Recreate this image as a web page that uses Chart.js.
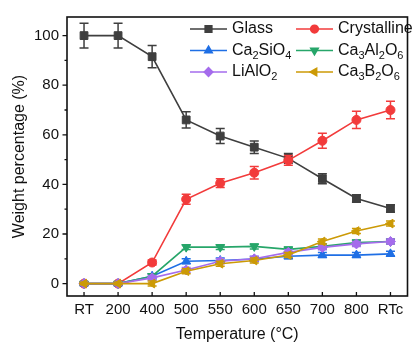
<!DOCTYPE html>
<html>
<head>
<meta charset="utf-8">
<script src="https://cdn.jsdelivr.net/npm/chart.js@4"></script>
<style>
  html, body { margin: 0; padding: 0; background: #fff; overflow: hidden; }
  .wrap { position: relative; width: 414px; height: 343px; }
</style>
</head>
<body>
<div class="wrap"><canvas id="c"></canvas></div>
<script>
const categories = ['RT', '200', '400', '500', '550', '600', '650', '700', '800', 'RTc'];
const yTicks = [0, 20, 40, 60, 80, 100];

const glass = [100, 100, 91.5, 66, 59.5, 55, 50.5, 42.3, 34.3, 30.3];
const glassErr = [5, 5, 4.5, 3.3, 3, 2.5, 2, 2, 1.5, 1.5];
const crystalline = [0, 0, 8.5, 34, 40.5, 44.7, 49.7, 57.6, 66, 70];
const crystallineErr = [0, 0, 1, 2, 1.8, 2.5, 2, 3, 3.5, 3.5];
const ca2sio4 = [0, 0, 3, 9, 9.3, 9.9, 11, 11.5, 11.5, 12];
const ca3al2o6 = [0, 0, 3, 14.7, 14.7, 15, 13.8, 15, 16.6, 17];
const liaio2 = [0, 0, 2.3, 5.5, 9, 10, 12.6, 14.6, 16, 17];
const ca3b2o6 = [0, 0, 0, 5, 8, 9.3, 11.5, 17, 21.2, 24.2];
const smallErr = [0.5, 0.5, 1, 1, 1, 1, 1, 1, 1, 1];

const font = '"Liberation Sans", Arial, sans-serif';

function series(label, data, err, color, style, rotation, radius, order) {
  return {
    label, data, err,
    borderColor: color, backgroundColor: color,
    pointBackgroundColor: color, pointBorderColor: color,
    pointStyle: style, pointRotation: rotation, pointRadius: radius,
    pointBorderWidth: 1, borderWidth: 1.6, tension: 0, order
  };
}

const datasets = [
  series('Glass', glass, glassErr, '#3f3f3f', 'rect', 0, 5.5, 6),
  series('Crystalline', crystalline, crystallineErr, '#f23b3b', 'circle', 0, 4.5, 5),
  series('Ca2SiO4', ca2sio4, smallErr, '#1f6fe5', 'triangle', 0, 5, 4),
  series('Ca3Al2O6', ca3al2o6, smallErr, '#27a66a', 'triangle', 180, 5, 3),
  series('LiAlO2', liaio2, smallErr, '#a56cec', 'rectRot', 0, 5, 2),
  series('Ca3B2O6', ca3b2o6, smallErr, '#cc9a06', 'triangle', -90, 5, 1)
];

// error bars, drawn right after each line
const errorBars = {
  id: 'errorBars',
  afterDatasetDraw(chart, args) {
    const ds = chart.data.datasets[args.index];
    const y = chart.scales.y;
    const ctx = chart.ctx;
    ctx.save();
    ctx.strokeStyle = ds.borderColor;
    ctx.lineWidth = 1.5;
    args.meta.data.forEach((pt, i) => {
      const e = ds.err[i];
      if (!e) return;
      const top = y.getPixelForValue(ds.data[i] + e);
      const bot = y.getPixelForValue(ds.data[i] - e);
      ctx.beginPath();
      ctx.moveTo(pt.x, top); ctx.lineTo(pt.x, bot);
      ctx.moveTo(pt.x - 4.5, top); ctx.lineTo(pt.x + 4.5, top);
      ctx.moveTo(pt.x - 4.5, bot); ctx.lineTo(pt.x + 4.5, bot);
      ctx.stroke();
    });
    ctx.restore();
  }
};

// frame and tick marks
const frame = {
  id: 'frame',
  afterDraw(chart) {
    const { ctx, chartArea: a, scales } = chart;
    ctx.save();
    ctx.strokeStyle = '#111';
    ctx.lineWidth = 1.6;
    ctx.strokeRect(a.left, a.top, a.right - a.left, a.bottom - a.top);
    ctx.lineWidth = 1.3;
    ctx.beginPath();
    for (let v = 0; v <= 100; v += 10) {
      const py = scales.y.getPixelForValue(v);
      ctx.moveTo(a.left, py);
      ctx.lineTo(a.left - (v % 20 === 0 ? 4.5 : 2.5), py);
    }
    categories.forEach((c, i) => {
      const px = scales.x.getPixelForValue(i);
      ctx.moveTo(px, a.bottom);
      ctx.lineTo(px, a.bottom - 4);
    });
    ctx.stroke();
    ctx.restore();
  }
};

// legend with line + marker and subscripted digits
const legendBox = {
  id: 'legendBox',
  afterDraw(chart) {
    const ctx = chart.ctx;
    const cols = [190, 296];
    const rows = [29, 50.5, 72];
    const place = [[0, 0], [1, 0], [0, 1], [1, 1], [0, 2], [1, 2]];
    ctx.save();
    chart.data.datasets.forEach((ds, i) => {
      const x0 = cols[place[i][0]];
      const y0 = rows[place[i][1]];
      ctx.strokeStyle = ds.borderColor;
      ctx.fillStyle = ds.borderColor;
      ctx.lineWidth = 1.6;
      ctx.beginPath();
      ctx.moveTo(x0, y0); ctx.lineTo(x0 + 37, y0);
      ctx.stroke();
      Chart.helpers.drawPoint(ctx, {
        pointStyle: ds.pointStyle, rotation: ds.pointRotation,
        radius: ds.pointRadius * 0.85, borderWidth: 1
      }, x0 + 18.5, y0);
      let tx = x0 + 42;
      ctx.fillStyle = '#111';
      ctx.textBaseline = 'middle';
      for (const ch of ds.label) {
        const sub = /[0-9]/.test(ch);
        ctx.font = (sub ? '11px ' : '16px ') + font;
        ctx.fillText(ch, tx, y0 + (sub ? 5 : 0));
        tx += ctx.measureText(ch).width;
      }
    });
    ctx.restore();
  }
};

new Chart(document.getElementById('c'), {
  type: 'line',
  data: { labels: categories, datasets },
  plugins: [errorBars, frame, legendBox],
  options: {
    responsive: true,
    maintainAspectRatio: false,
    animation: false,
    layout: { padding: { top: 14, right: 0, left: 0, bottom: 0 } },
    plugins: { legend: { display: false }, tooltip: { enabled: false } },
    scales: {
      x: {
        offset: true,
        grid: { display: false, drawTicks: false },
        border: { display: false },
        ticks: { color: '#111', font: { family: font, size: 15 }, padding: 5, maxRotation: 0, autoSkip: false },
        title: { display: true, text: 'Temperature (°C)', color: '#111', font: { family: font, size: 16, lineHeight: 1 }, padding: { top: 0, bottom: 0 } },
        afterFit(s) { s.height = 47; }
      },
      y: {
        min: -5,
        max: 107.5,
        grid: { display: false, drawTicks: false },
        border: { display: false },
        afterBuildTicks(s) { s.ticks = yTicks.map(v => ({ value: v })); },
        ticks: { color: '#111', font: { family: font, size: 15 }, padding: 8 },
        title: { display: true, text: 'Weight percentage (%)', color: '#111', font: { family: font, size: 16, lineHeight: 1 }, padding: { top: 12, bottom: 0 } },
        afterFit(s) { s.width = 67; }
      }
    }
  }
});
</script>
</body>
</html>
